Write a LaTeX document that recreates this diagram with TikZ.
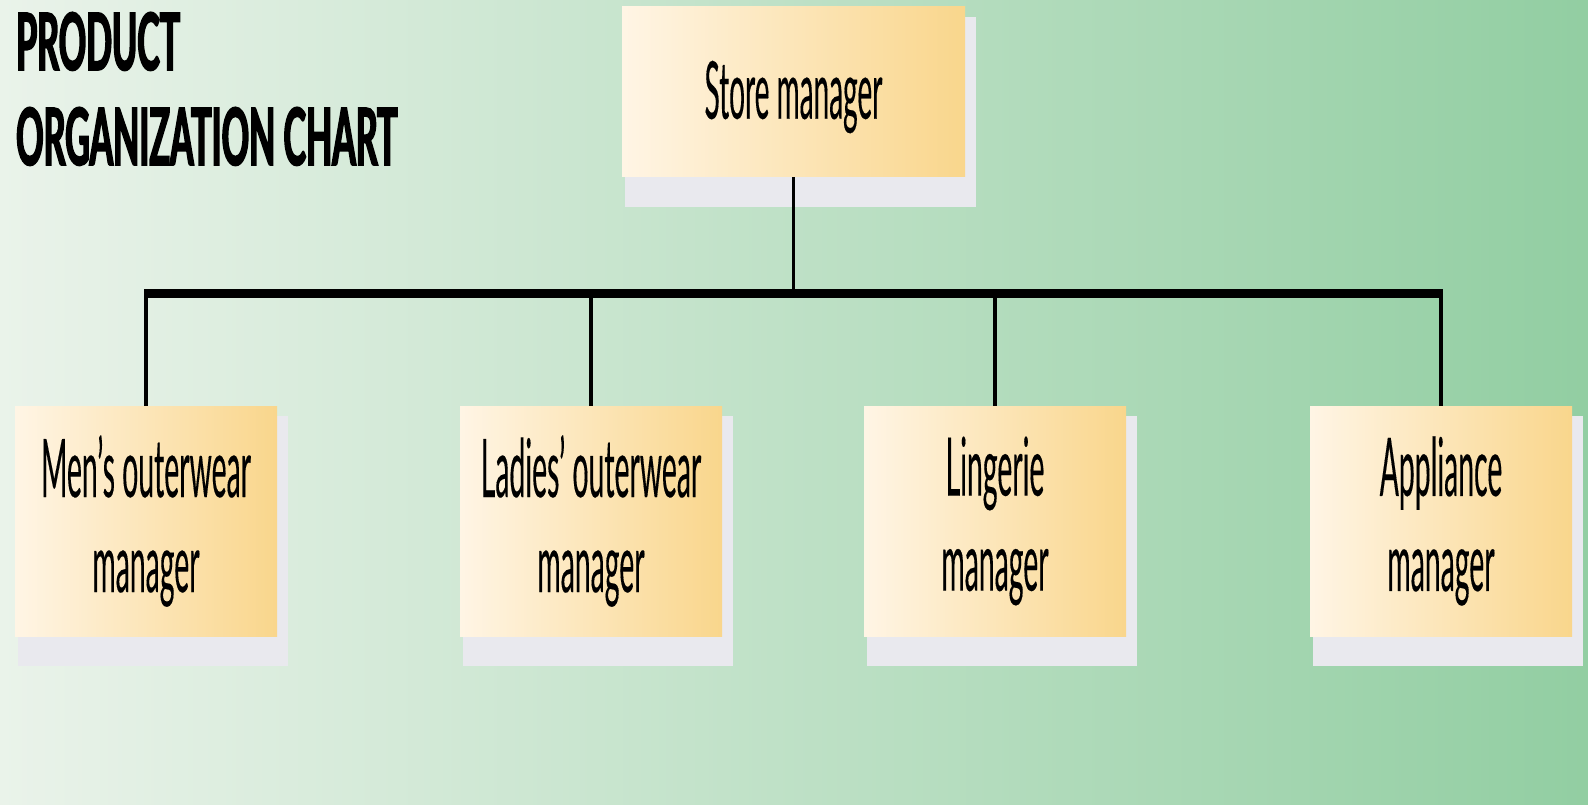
\documentclass[tikz,border=0pt]{standalone}
\usepackage{fontspec}
\usetikzlibrary{calc}
% condensed humanist sans for the chart
\newfontfamily\storefont[FakeStretch=0.35, FakeBold=0.15]{Lato}
\newfontfamily\boxfont[FakeStretch=0.35, FakeBold=0.15]{Lato}
\newfontfamily\titlefont[FakeStretch=0.43, FakeBold=2]{Lato Bold}
\pgfdeclarelayer{bg}
\pgfdeclarelayer{shadowlayer}
\pgfsetlayers{bg,shadowlayer,main}
\definecolor{bgleft}{HTML}{EAF3EA}
\definecolor{bgright}{HTML}{92CEA2}
\definecolor{boxleft}{HTML}{FFF5E5}
\definecolor{boxright}{HTML}{F9D68C}
\definecolor{shadowgray}{HTML}{E9E9EE}
\begin{document}
\begin{tikzpicture}[x=1pt,y=-1pt,
  card/.style={draw=none, left color=boxleft, right color=boxright,
    inner sep=0pt, align=center, text=black},
  uppercard/.style={card, minimum width=343pt, minimum height=170pt,
    text height=68pt, font=\storefont\fontsize{80}{90}\selectfont},
  lowercard/.style={card, minimum width=262pt, minimum height=230pt,
    font=\boxfont\fontsize{81}{95}\selectfont},
  heading/.style={anchor=base west, inner sep=0pt,
    font=\titlefont\fontsize{79}{90}\selectfont},
  link/.style={line width=3.5pt},
  busbar/.style={line width=9pt}]

% page background
\begin{pgfonlayer}{bg}
  \shade[left color=bgleft, right color=bgright] (0,0) rectangle (1588,805);
\end{pgfonlayer}
\useasboundingbox (0,0) rectangle (1588,805);

% title
\node[heading] (title1) at (16,70) {PRODUCT};
\node[heading] (title2) at (16,165) {ORGANIZATION CHART};

% positions
\node[uppercard] (store) at (793.5,92) {Store manager};
\node[lowercard] (men) at (146,521) {Men’s outerwear\\manager};
\node[lowercard] (ladies) at (591,521) {Ladies’ outerwear\\manager};
\node[lowercard] (ling) at (995,521) {Lingerie\\manager};
\node[lowercard] (app) at (1441,521) {Appliance\\manager};

% flat offset shadows behind the cards
\begin{pgfonlayer}{shadowlayer}
  \foreach \n in {store,men,ladies,ling,app}
    \fill[shadowgray] ([shift={(3,10)}]\n.north west)
      rectangle ([shift={(11,30)}]\n.south east);
\end{pgfonlayer}

% reporting lines
\coordinate (hub) at (793.5,293);
\draw[link] (store.south) -- (hub);
\draw[busbar] ($(men.north |- hub)+(-1.75,0)$) -- ($(app.north |- hub)+(1.75,0)$);
\foreach \n in {men,ladies,ling,app}
  \draw[link] (hub -| \n.north) -- (\n.north);
\end{tikzpicture}
\end{document}
